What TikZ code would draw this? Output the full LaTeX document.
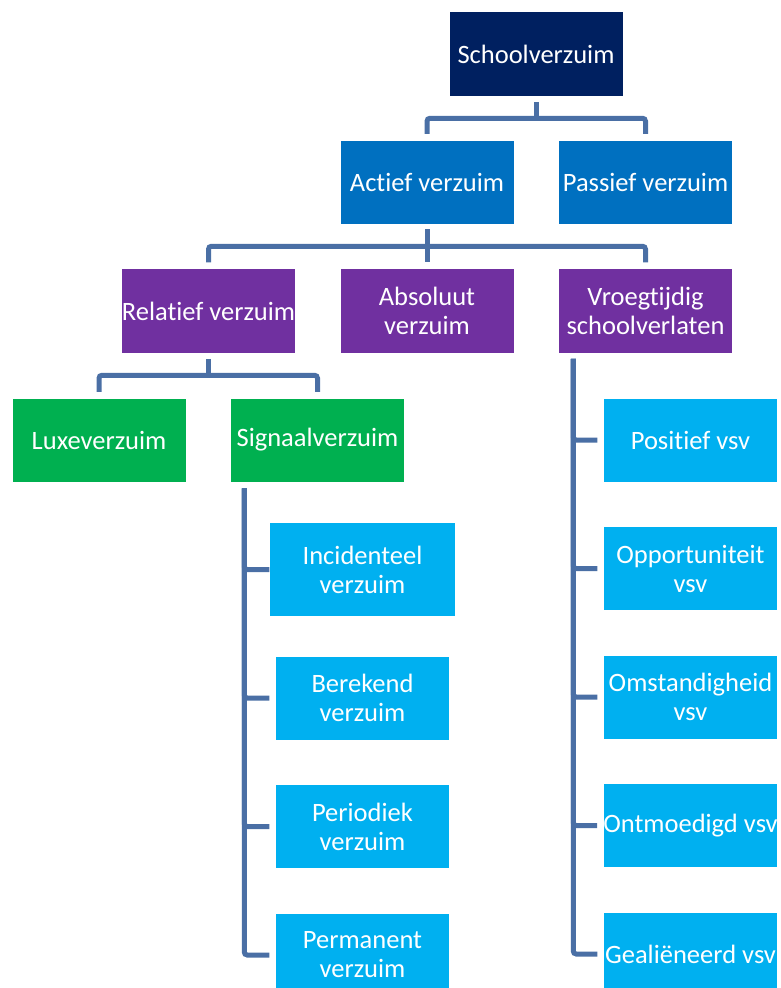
\documentclass[tikz,border=0pt]{standalone}
\usepackage{fontspec}
\setmainfont{Carlito}[Ligatures=NoCommon]
\usetikzlibrary{positioning}
\definecolor{navy}{HTML}{002060}
\definecolor{blue}{HTML}{0070C0}
\definecolor{purple}{HTML}{7030A0}
\definecolor{green}{HTML}{00B050}
\definecolor{sky}{HTML}{00B0F0}
\definecolor{linkblue}{HTML}{4A6FA5}
\tikzset{
  every node/.style={font=\fontsize{26.5}{29}\selectfont},
  box/.style={draw=white, line width=0.5pt, text=white, align=center, inner sep=0pt, minimum width=174pt, minimum height=84pt},
  navybox/.style={box, fill=navy, minimum height=85pt},
  bluebox/.style={box, fill=blue},
  purplebox/.style={box, fill=purple, minimum height=85pt},
  greenbox/.style={box, fill=green},
  skybox/.style={box, fill=sky},
  link/.style={draw=linkblue, line width=5pt, rounded corners=3pt},
}
\begin{document}
\begin{tikzpicture}[x=1pt, y=1pt, node distance=44pt and 44pt]
\useasboundingbox (0,0) rectangle (780,-988);
\node[navybox] (school) at (536,-54) {Schoolverzuim};
\node[bluebox, below=43pt of school, xshift=-109pt] (actief) {Actief verzuim};
\node[bluebox, right=of actief] (passief) {Passief verzuim};
\node[purplebox, below=of actief] (absoluut) {Absoluut\\verzuim};
\node[purplebox, left=of absoluut] (relatief) {Relatief verzuim};
\node[purplebox, right=of absoluut] (vroeg) {Vroegtijdig\\schoolverlaten};
\node[greenbox, below=of relatief, xshift=-109.5pt] (luxe) {Luxeverzuim};
\node[greenbox, right=of luxe] (signaal) {Signaalverzuim};
\node[skybox, below=40pt of signaal, xshift=45pt, minimum width=186pt, minimum height=94pt] (incidenteel) {Incidenteel\\verzuim};
\node[skybox, below=39pt of incidenteel] (berekend) {Berekend\\verzuim};
\node[skybox, below=of berekend] (periodiek) {Periodiek\\verzuim};
\node[skybox, below=of periodiek] (permanent) {Permanent\\verzuim};
\node[skybox, below=of vroeg, xshift=45pt] (positief) {Positief vsv};
\node[skybox, below=of positief] (opport) {Opportuniteit\\vsv};
\node[skybox, below=of opport] (omstand) {Omstandigheid\\vsv};
\node[skybox, below=of omstand] (ontmoed) {Ontmoedigd vsv};
\node[skybox, below=of ontmoed] (geal) {Gealiëneerd vsv};
\draw[link] ([yshift=-5pt]school.south) -- ([yshift=-21.5pt]school.south);
\draw[link] ([yshift=6pt]actief.north) |- ([yshift=-21.5pt]school.south) -| ([yshift=6pt]passief.north);
\draw[link] ([yshift=-5pt]actief.south) -- ([yshift=6pt]absoluut.north);
\draw[link] ([yshift=6pt]relatief.north) |- ([yshift=-22pt]actief.south) -| ([yshift=6pt]vroeg.north);
\draw[link] ([yshift=-5pt]relatief.south) -- ([yshift=-21.5pt]relatief.south);
\draw[link] ([yshift=6pt]luxe.north) |- ([yshift=-21.5pt]relatief.south) -| ([yshift=6pt]signaal.north);
\coordinate (sigtop) at ([xshift=14pt, yshift=-6pt]signaal.south west);
\draw[link] (sigtop) |- (incidenteel.west);
\draw[link] (sigtop) |- ([xshift=-6pt]berekend.west);
\draw[link] (sigtop) |- ([xshift=-6pt]periodiek.west);
\draw[link] (sigtop) |- ([xshift=-6pt]permanent.west);
\coordinate (vsvtop) at ([xshift=15pt, yshift=-5pt]vroeg.south west);
\draw[link] (vsvtop) |- ([xshift=-6pt]positief.west);
\draw[link] (vsvtop) |- ([xshift=-6pt]opport.west);
\draw[link] (vsvtop) |- ([xshift=-6pt]omstand.west);
\draw[link] (vsvtop) |- ([xshift=-6pt]ontmoed.west);
\draw[link] (vsvtop) |- ([xshift=-6pt]geal.west);
\end{tikzpicture}
\end{document}
